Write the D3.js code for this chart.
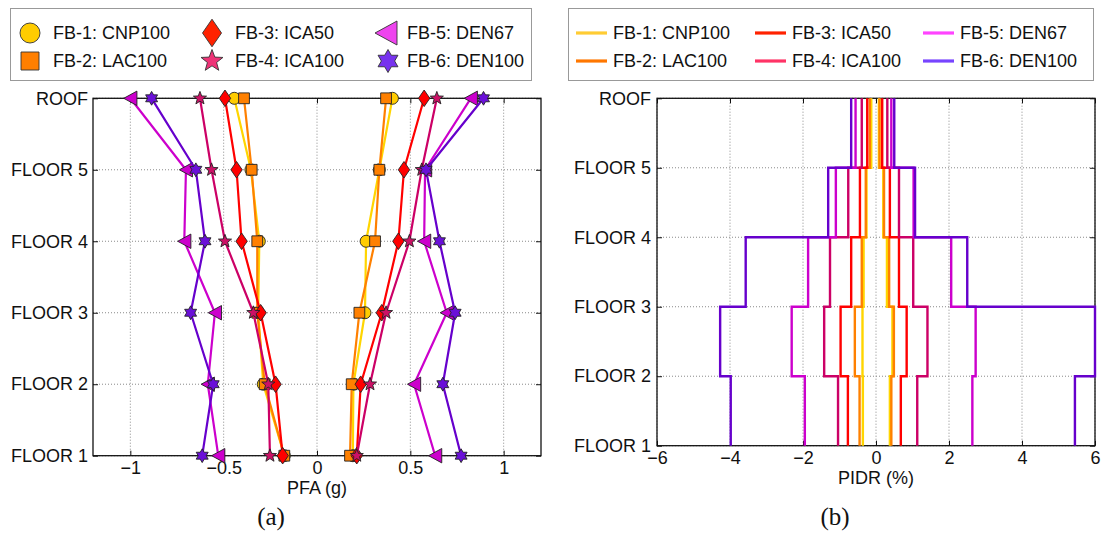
<!DOCTYPE html>
<html>
<head>
<meta charset="utf-8">
<script src="https://cdn.jsdelivr.net/npm/d3@7/dist/d3.min.js"></script>
<style>
  html, body { margin: 0; padding: 0; background: #fff; }
  svg { display: block; }
  text { font-family: "Liberation Sans", Arial, Helvetica, sans-serif; fill: #111; }
</style>
</head>
<body>
<svg id="chart" width="1104" height="534"></svg>
<script>
// ---------------- DATA ----------------
const floors = ["FLOOR 1", "FLOOR 2", "FLOOR 3", "FLOOR 4", "FLOOR 5", "ROOF"];
const seriesNames = ["FB-1: CNP100", "FB-2: LAC100", "FB-3: ICA50", "FB-4: ICA100", "FB-5: DEN67", "FB-6: DEN100"];
const pfaTicks = [-1, -0.5, 0, 0.5, 1];
const pfaTickLabels = ["\u22121", "\u22120.5", "0", "0.5", "1"];
const pidrTicks = [-6, -4, -2, 0, 2, 4, 6];
const pidrTickLabels = ["\u22126", "\u22124", "\u22122", "0", "2", "4", "6"];

// PFA (g), per series, floor 1 .. roof
const pfaNeg1 = [-0.175, -0.288, -0.315, -0.309, -0.354, -0.443];
const pfaNeg2 = [-0.175, -0.280, -0.320, -0.320, -0.350, -0.391];
const pfaNeg3 = [-0.184, -0.222, -0.302, -0.404, -0.431, -0.493];
const pfaNeg4 = [-0.252, -0.261, -0.341, -0.493, -0.565, -0.627];
const pfaNeg5 = [-0.529, -0.585, -0.547, -0.711, -0.702, -1.000];
const pfaNeg6 = [-0.615, -0.556, -0.677, -0.600, -0.649, -0.886];
const pfaPos1 = [0.192, 0.195, 0.257, 0.263, 0.334, 0.404];
const pfaPos2 = [0.177, 0.186, 0.227, 0.311, 0.334, 0.370];
const pfaPos3 = [0.213, 0.234, 0.347, 0.436, 0.466, 0.574];
const pfaPos4 = [0.213, 0.284, 0.370, 0.495, 0.561, 0.642];
const pfaPos5 = [0.633, 0.520, 0.695, 0.574, 0.579, 0.824];
const pfaPos6 = [0.772, 0.674, 0.740, 0.656, 0.584, 0.892];

// PIDR (%), per series, story 1 .. story 5
const pidrNeg1 = [-0.36, -0.37, -0.34, -0.26, -0.13];
const pidrNeg2 = [-0.45, -0.58, -0.39, -0.28, -0.17];
const pidrNeg3 = [-0.77, -0.97, -0.68, -0.44, -0.24];
const pidrNeg4 = [-1.04, -1.42, -1.26, -0.76, -0.39];
const pidrNeg5 = [-1.95, -2.31, -1.86, -1.10, -0.56];
const pidrNeg6 = [-3.98, -4.27, -3.57, -1.31, -0.68];
const pidrPos1 = [0.38, 0.45, 0.30, 0.20, 0.08];
const pidrPos2 = [0.42, 0.49, 0.36, 0.22, 0.10];
const pidrPos3 = [0.68, 0.84, 0.63, 0.38, 0.17];
const pidrPos4 = [1.13, 1.41, 1.02, 0.63, 0.31];
const pidrPos5 = [2.64, 2.73, 2.06, 1.03, 0.42];
const pidrPos6 = [5.45, 6.00, 2.50, 1.07, 0.50];

const pfaNeg = [pfaNeg1, pfaNeg2, pfaNeg3, pfaNeg4, pfaNeg5, pfaNeg6];
const pfaPos = [pfaPos1, pfaPos2, pfaPos3, pfaPos4, pfaPos5, pfaPos6];
const pidrNeg = [pidrNeg1, pidrNeg2, pidrNeg3, pidrNeg4, pidrNeg5, pidrNeg6];
const pidrPos = [pidrPos1, pidrPos2, pidrPos3, pidrPos4, pidrPos5, pidrPos6];

// ---------------- STYLE ----------------
const lineColors = ["#ffd500", "#ff8000", "#ff0000", "#cc0066", "#cc00cc", "#6600cc"];
const markerFill = ["#ffcc00", "#ff8000", "#ff0000", "#cc1166", "#cc00cc", "#6a10d8"];
const legMarkerFill = ["#ffcc00", "#ff7f00", "#ff2200", "#ee3377", "#ee44ee", "#7733ee"];
const legLineColors = ["#ffcc33", "#ff7700", "#ff2200", "#ff3366", "#ff44ff", "#7744ff"];
const markerTypes = ["circle", "square", "diamond", "star", "triangle", "hexagram"];

function markerPath(type, s) {
  const pts = [];
  if (type === "circle") {
    return d3.symbol(d3.symbolCircle, Math.PI * s * s)();
  }
  if (type === "square") {
    const h = s * 0.9;
    return `M${-h},${-h}L${h},${-h}L${h},${h}L${-h},${h}Z`;
  }
  if (type === "diamond") {
    const w = s * 0.95, h = s * 1.38;
    return `M0,${-h}L${w},0L0,${h}L${-w},0Z`;
  }
  if (type === "triangle") {
    const w = s * 1.1, h = s * 1.2;
    return `M${-w},0L${w},${-h}L${w},${h}Z`;
  }
  if (type === "star") {
    const R = s * 1.15, r = R * 0.42;
    for (let i = 0; i < 10; i++) {
      const a = -Math.PI / 2 + i * Math.PI / 5;
      const rr = i % 2 === 0 ? R : r;
      pts.push([rr * Math.cos(a), rr * Math.sin(a)]);
    }
  }
  if (type === "hexagram") {
    const R = s * 1.15, r = R * 0.577;
    for (let i = 0; i < 12; i++) {
      const a = -Math.PI / 2 + i * Math.PI / 6;
      const rr = i % 2 === 0 ? R : r;
      pts.push([rr * Math.cos(a), rr * Math.sin(a)]);
    }
  }
  return "M" + pts.map(p => p[0].toFixed(2) + "," + p[1].toFixed(2)).join("L") + "Z";
}

const svg = d3.select("#chart");

// ---------------- LEFT PANEL (PFA) ----------------
const xL = d3.scaleLinear().domain([-1.2, 1.2]).range([93, 541]);
const yL = d3.scaleLinear().domain([0, 5]).range([455.7, 98.3]);

function drawFrame(g, x, y, xt, xtl, yTickPad) {
  const [x0, x1] = x.range();
  const [yb, yt] = y.range();
  g.append("g").selectAll("line").data(xt).join("line")
    .attr("x1", d => x(d)).attr("x2", d => x(d)).attr("y1", yb).attr("y2", yt)
    .attr("stroke", "#8a8a8a").attr("stroke-width", 1).attr("stroke-dasharray", "1,2");
  g.append("g").selectAll("line").data(d3.range(floors.length)).join("line")
    .attr("x1", x0).attr("x2", x1).attr("y1", d => y(d)).attr("y2", d => y(d))
    .attr("stroke", "#8a8a8a").attr("stroke-width", 1).attr("stroke-dasharray", "1,2");
  const ax = d3.axisBottom(x).tickValues(xt).tickFormat((d, i) => xtl[i])
    .tickSizeInner(-5).tickSizeOuter(0).tickPadding(6);
  const axg = g.append("g").attr("transform", `translate(0,${yb})`).call(ax);
  axg.select(".domain").remove();
  axg.selectAll("text").style("font-size", "18px").style("font-family", "Liberation Sans, Arial, sans-serif").attr("fill", "#111");
  axg.selectAll("line").attr("stroke", "#111");
  const axt = d3.axisTop(x).tickValues(xt).tickFormat("").tickSizeInner(-5).tickSizeOuter(0);
  const axtg = g.append("g").attr("transform", `translate(0,${yt})`).call(axt);
  axtg.select(".domain").remove();
  axtg.selectAll("line").attr("stroke", "#111");
  const ay = d3.axisLeft(y).tickValues(d3.range(floors.length)).tickFormat((d) => floors[d])
    .tickSizeInner(-5).tickSizeOuter(0).tickPadding(yTickPad);
  const ayg = g.append("g").attr("transform", `translate(${x0},0)`).call(ay);
  ayg.select(".domain").remove();
  ayg.selectAll("text").style("font-size", "18px").style("font-family", "Liberation Sans, Arial, sans-serif").attr("fill", "#111");
  ayg.selectAll("line").attr("stroke", "#111");
  const ayr = d3.axisRight(y).tickValues(d3.range(floors.length)).tickFormat("").tickSizeInner(-5).tickSizeOuter(0);
  const ayrg = g.append("g").attr("transform", `translate(${x1},0)`).call(ayr);
  ayrg.select(".domain").remove();
  ayrg.selectAll("line").attr("stroke", "#111");
  g.append("rect").attr("x", x0).attr("y", yt).attr("width", x1 - x0).attr("height", yb - yt)
    .attr("fill", "none").attr("stroke", "#111").attr("stroke-width", 1.3);
}

const gL = svg.append("g");
drawFrame(gL, xL, yL, pfaTicks, pfaTickLabels, 5);

const lineL = d3.line().x(d => xL(d[0])).y(d => yL(d[1]));
for (let s = 0; s < 6; s++) {
  const gs = gL.append("g");
  [pfaNeg[s], pfaPos[s]].forEach(arr => {
    const pts = arr.map((v, i) => [v, i]);
    gs.append("path").attr("d", lineL(pts)).attr("fill", "none")
      .attr("stroke", lineColors[s]).attr("stroke-width", 2.2).attr("stroke-linejoin", "round");
  });
  [pfaNeg[s], pfaPos[s]].forEach(arr => {
    gs.selectAll(null).data(arr.map((v, i) => [v, i])).join("path")
      .attr("transform", d => `translate(${xL(d[0])},${yL(d[1])})`)
      .attr("d", markerPath(markerTypes[s], 6))
      .attr("fill", markerFill[s]).attr("stroke", "#222").attr("stroke-width", 0.9);
  });
}

gL.append("text").attr("x", (xL.range()[0] + xL.range()[1]) / 2).attr("y", 494)
  .attr("text-anchor", "middle").style("font-size", "18px").text("PFA (g)");
svg.append("text").attr("x", 271).attr("y", 525).attr("text-anchor", "middle")
  .style("font-family", "Liberation Serif, 'Times New Roman', serif").style("font-size", "25px").text("(a)");

// ---------------- RIGHT PANEL (PIDR) ----------------
const xR = d3.scaleLinear().domain([-6, 6]).range([657, 1095]);
const yR = d3.scaleLinear().domain([0, 5]).range([445.7, 98.3]);

const gR = svg.append("g");
drawFrame(gR, xR, yR, pidrTicks, pidrTickLabels, 6);

const lineR = d3.line().x(d => xR(d[0])).y(d => yR(d[1]));
for (let s = 0; s < 6; s++) {
  [pidrNeg[s], pidrPos[s]].forEach(arr => {
    const pts = [];
    arr.forEach((v, i) => { pts.push([v, i]); pts.push([v, i + 1]); });
    gR.append("path").attr("d", lineR(pts)).attr("fill", "none")
      .attr("stroke", lineColors[s]).attr("stroke-width", 2.4).attr("stroke-linejoin", "miter");
  });
}

gR.append("text").attr("x", (xR.range()[0] + xR.range()[1]) / 2).attr("y", 484)
  .attr("text-anchor", "middle").style("font-size", "18px").text("PIDR (%)");
svg.append("text").attr("x", 835).attr("y", 525).attr("text-anchor", "middle")
  .style("font-family", "Liberation Serif, 'Times New Roman', serif").style("font-size", "25px").text("(b)");

// ---------------- LEGENDS ----------------
const legL = svg.append("g");
legL.append("rect").attr("x", 10.5).attr("y", 8.5).attr("width", 521).attr("height", 72)
  .attr("fill", "#fff").attr("stroke", "#999").attr("stroke-width", 1);
const legColX = [30, 212, 386];
const legTextX = [53, 235, 407];
const legRowY = [33, 61];
seriesNames.forEach((name, s) => {
  const col = Math.floor(s / 2), row = s % 2;
  const mx = legColX[col] + (s === 5 ? 2 : 0);
  legL.append("path").attr("transform", `translate(${mx},${legRowY[row]})`)
    .attr("d", markerPath(markerTypes[s], 10))
    .attr("fill", legMarkerFill[s]).attr("stroke", "#333").attr("stroke-width", 0.9);
  legL.append("text").attr("x", legTextX[col]).attr("y", legRowY[row]).attr("dy", "0.35em")
    .style("font-size", "18px").text(name);
});

const legR = svg.append("g");
legR.append("rect").attr("x", 568.5).attr("y", 8.5).attr("width", 525).attr("height", 72)
  .attr("fill", "#fff").attr("stroke", "#999").attr("stroke-width", 1);
const legRLineX = [576, 755, 923];
seriesNames.forEach((name, s) => {
  const col = Math.floor(s / 2), row = s % 2;
  legR.append("line").attr("x1", legRLineX[col]).attr("x2", legRLineX[col] + 31)
    .attr("y1", legRowY[row]).attr("y2", legRowY[row])
    .attr("stroke", legLineColors[s]).attr("stroke-width", 3.2);
  legR.append("text").attr("x", legRLineX[col] + 37).attr("y", legRowY[row]).attr("dy", "0.35em")
    .style("font-size", "18px").text(name);
});
</script>
</body>
</html>
